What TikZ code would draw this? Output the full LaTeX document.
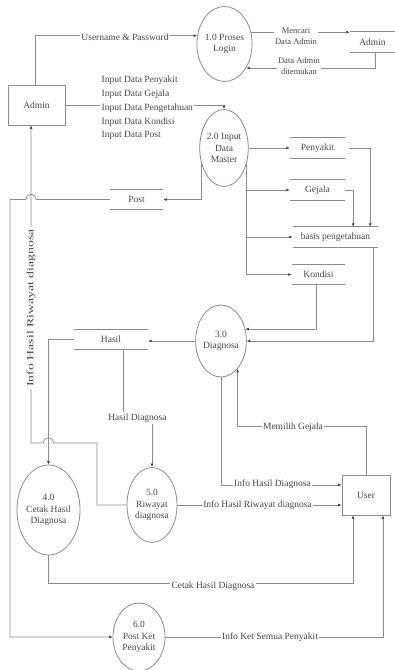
\documentclass[tikz,border=0pt]{standalone}
\usepackage{fontspec}
\setmainfont{Liberation Serif}
\usetikzlibrary{shapes.geometric, arrows.meta}
\definecolor{wire}{HTML}{8C8C8C}
\definecolor{ink}{HTML}{474747}

\begin{document}
\begin{tikzpicture}[x=1pt, y=-1pt, font=\fontsize{9.5}{11.5}\selectfont, text=ink,
  proc/.style={draw=wire, line width=0.8pt, ellipse, inner sep=0pt, align=center},
  ent/.style={draw=wire, line width=0.8pt, rectangle, inner sep=0pt},
  store/.style={rectangle, inner sep=0pt},
  link/.style={draw=wire, line width=0.8pt},
  flow/.style={link, -{Latex[length=3.5pt, width=3pt, color=ink]}},
  lbl/.style={fill=white, inner sep=1.5pt, align=center}]
  \useasboundingbox (0,0) rectangle (395,670);

  % External entities.
  \node[ent, minimum width=57pt, minimum height=40pt] (admin) at (36.5,105) {Admin};
  \node[ent, minimum width=48pt, minimum height=40pt] (user) at (366,495) {User};

  % Processes.
  \node[proc, minimum width=45pt, minimum height=75pt] (login) at (224.5,44) {1.0 Proses\\Login};
  \node[proc, minimum width=48pt, minimum height=77pt] (master) at (224,148) {2.0 Input\\Data\\Master};
  \node[proc, minimum width=48pt, minimum height=72pt] (diagnosa) at (221,341) {3.0\\Diagnosa};
  \node[proc, minimum width=63pt, minimum height=90pt] (cetak) at (48.5,510) {4.0\\Cetak Hasil\\Diagnosa};
  \node[proc, minimum width=50pt, minimum height=75pt] (riwayat) at (152,505) {5.0\\Riwayat\\diagnosa};
  \node[proc, minimum width=52pt, minimum height=68pt] (pket) at (139,637) {6.0\\Post Ket\\Penyakit};

  % Data stores (open both ends).
  \node[store, minimum width=45pt, minimum height=20pt] (adminS) at (372.5,42) {Admin};
  \node[store, minimum width=53pt, minimum height=19pt] (post) at (136.5,199.5) {Post};
  \node[store, minimum width=55pt, minimum height=20pt] (penyakit) at (317.5,148) {Penyakit};
  \node[store, minimum width=55pt, minimum height=20pt] (gejala) at (317.5,190) {Gejala};
  \node[store, minimum width=85pt, minimum height=20pt] (basis) at (335.5,237) {basis pengetahuan};
  \node[store, minimum width=53pt, minimum height=19pt] (kondisi) at (318.5,274.5) {Kondisi};
  \node[store, minimum width=74pt, minimum height=19pt] (hasil) at (111,339.5) {Hasil};
  \foreach \s in {adminS, post, penyakit, gejala, basis, kondisi, hasil}
    \draw[link, line width=1.3pt] (\s.north west) -- (\s.north east) (\s.south west) -- (\s.south east);

  % Helper points.
  \coordinate (adminIn) at ([xshift=-5.5pt]admin.south);
  \coordinate (postBend) at (10,199.5);
  \coordinate (rwBend) at (97,443);
  \coordinate (hasilOut) at ([xshift=12pt]hasil.south);
  \node[lbl] (lHD) at (137.5,418) {Hasil Diagnosa};

  % Login flows.
  \draw[flow] ([xshift=-1.5pt]admin.north) |- (login.163);
  \draw[flow] (login.24) -- (login.24 -| adminS.west);
  \draw[flow] ([xshift=3pt]adminS.south) |- (login.312);

  % Master data flows.
  \draw[flow] (admin.east) -| (master.north);
  \draw[flow] (master.east) -- (penyakit.west);
  \draw[flow] (master.325) |- (gejala.west);
  \draw[flow] (master.325) |- (basis.west);
  \draw[flow] (master.325) |- (kondisi.west);
  \draw[flow] (master.214) |- (post.east);
  \draw[flow] ([xshift=4pt]penyakit.east) -| ([xshift=-8pt]basis.north east);
  \draw[flow] (gejala.east) -| ([xshift=-25pt]basis.north east);
  \draw[flow] ([xshift=-5pt]basis.south east) |- (diagnosa.east);
  \draw[flow] ([xshift=-2pt]kondisi.south) |- (diagnosa.26);

  % Post to 6.0, hopping over the admin line.
  \draw[flow] (post.west) -- ([xshift=5pt]adminIn |- post.west)
    .. controls +(0,-7) and +(0,-7) .. ([xshift=-5pt]adminIn |- post.west)
    -- (postBend) |- (pket.west);

  % Diagnosa and results.
  \draw[flow] (diagnosa.west) -- (diagnosa.west -| hasil.east);
  \draw[flow] (hasil.west) -| (cetak.north);
  \draw[link] (hasilOut) -- (hasilOut |- lHD.north);
  \draw[flow] (lHD.south -| riwayat.north) -- (riwayat.north);
  \draw[flow] (riwayat.west) -| (rwBend) -- ([xshift=5pt]cetak.north |- rwBend)
    .. controls +(0,-7) and +(0,-7) .. ([xshift=-5pt]cetak.north |- rwBend)
    -- (adminIn |- rwBend) -- (adminIn);

  % User flows.
  \draw[flow] (user.north) -- ++(0,-48) -| (diagnosa.301);
  \draw[flow] (diagnosa.south) |- ([yshift=10pt]user.west);
  \draw[flow] (riwayat.east) -- (riwayat.east -| user.west);
  \draw[flow] (cetak.south) -- ++(0,28) -| ([xshift=-13pt]user.south);
  \draw[flow] (pket.east) -| ([xshift=17pt]user.south);

  % Flow labels.
  \node[lbl] (lUP) at (125,37) {Username \& Password};
  \node[lbl, font=\fontsize{8.5}{11}\selectfont] (lMC) at (296,36) {Mencari\\Data Admin};
  \node[lbl, font=\fontsize{8.5}{11}\selectfont] (lDA) at (299,66) {Data Admin\\ditemukan};
  \node[lbl, anchor=west, align=left, font=\fontsize{9.5}{13.8}\selectfont] (lIn) at (100,108)
    {Input Data Penyakit\\Input Data Gejala\\Input Data Pengetahuan\\Input Data Kondisi\\Input Data Post};
  \node[lbl, rotate=90, xscale=1.45] (lRW) at (31,308) {Info Hasil Riwayat diagnosa};
  \node[lbl] (lMG) at (293,427) {Memilih Gejala};
  \node[lbl] (lIHD) at (272.5,484) {Info Hasil Diagnosa};
  \node[lbl] (lIHR) at (257.5,505) {Info Hasil Riwayat diagnosa};
  \node[lbl] (lCH) at (213,586) {Cetak Hasil Diagnosa};
  \node[lbl] (lKS) at (270,637) {Info Ket Semua Penyakit};
\end{tikzpicture}
\end{document}
